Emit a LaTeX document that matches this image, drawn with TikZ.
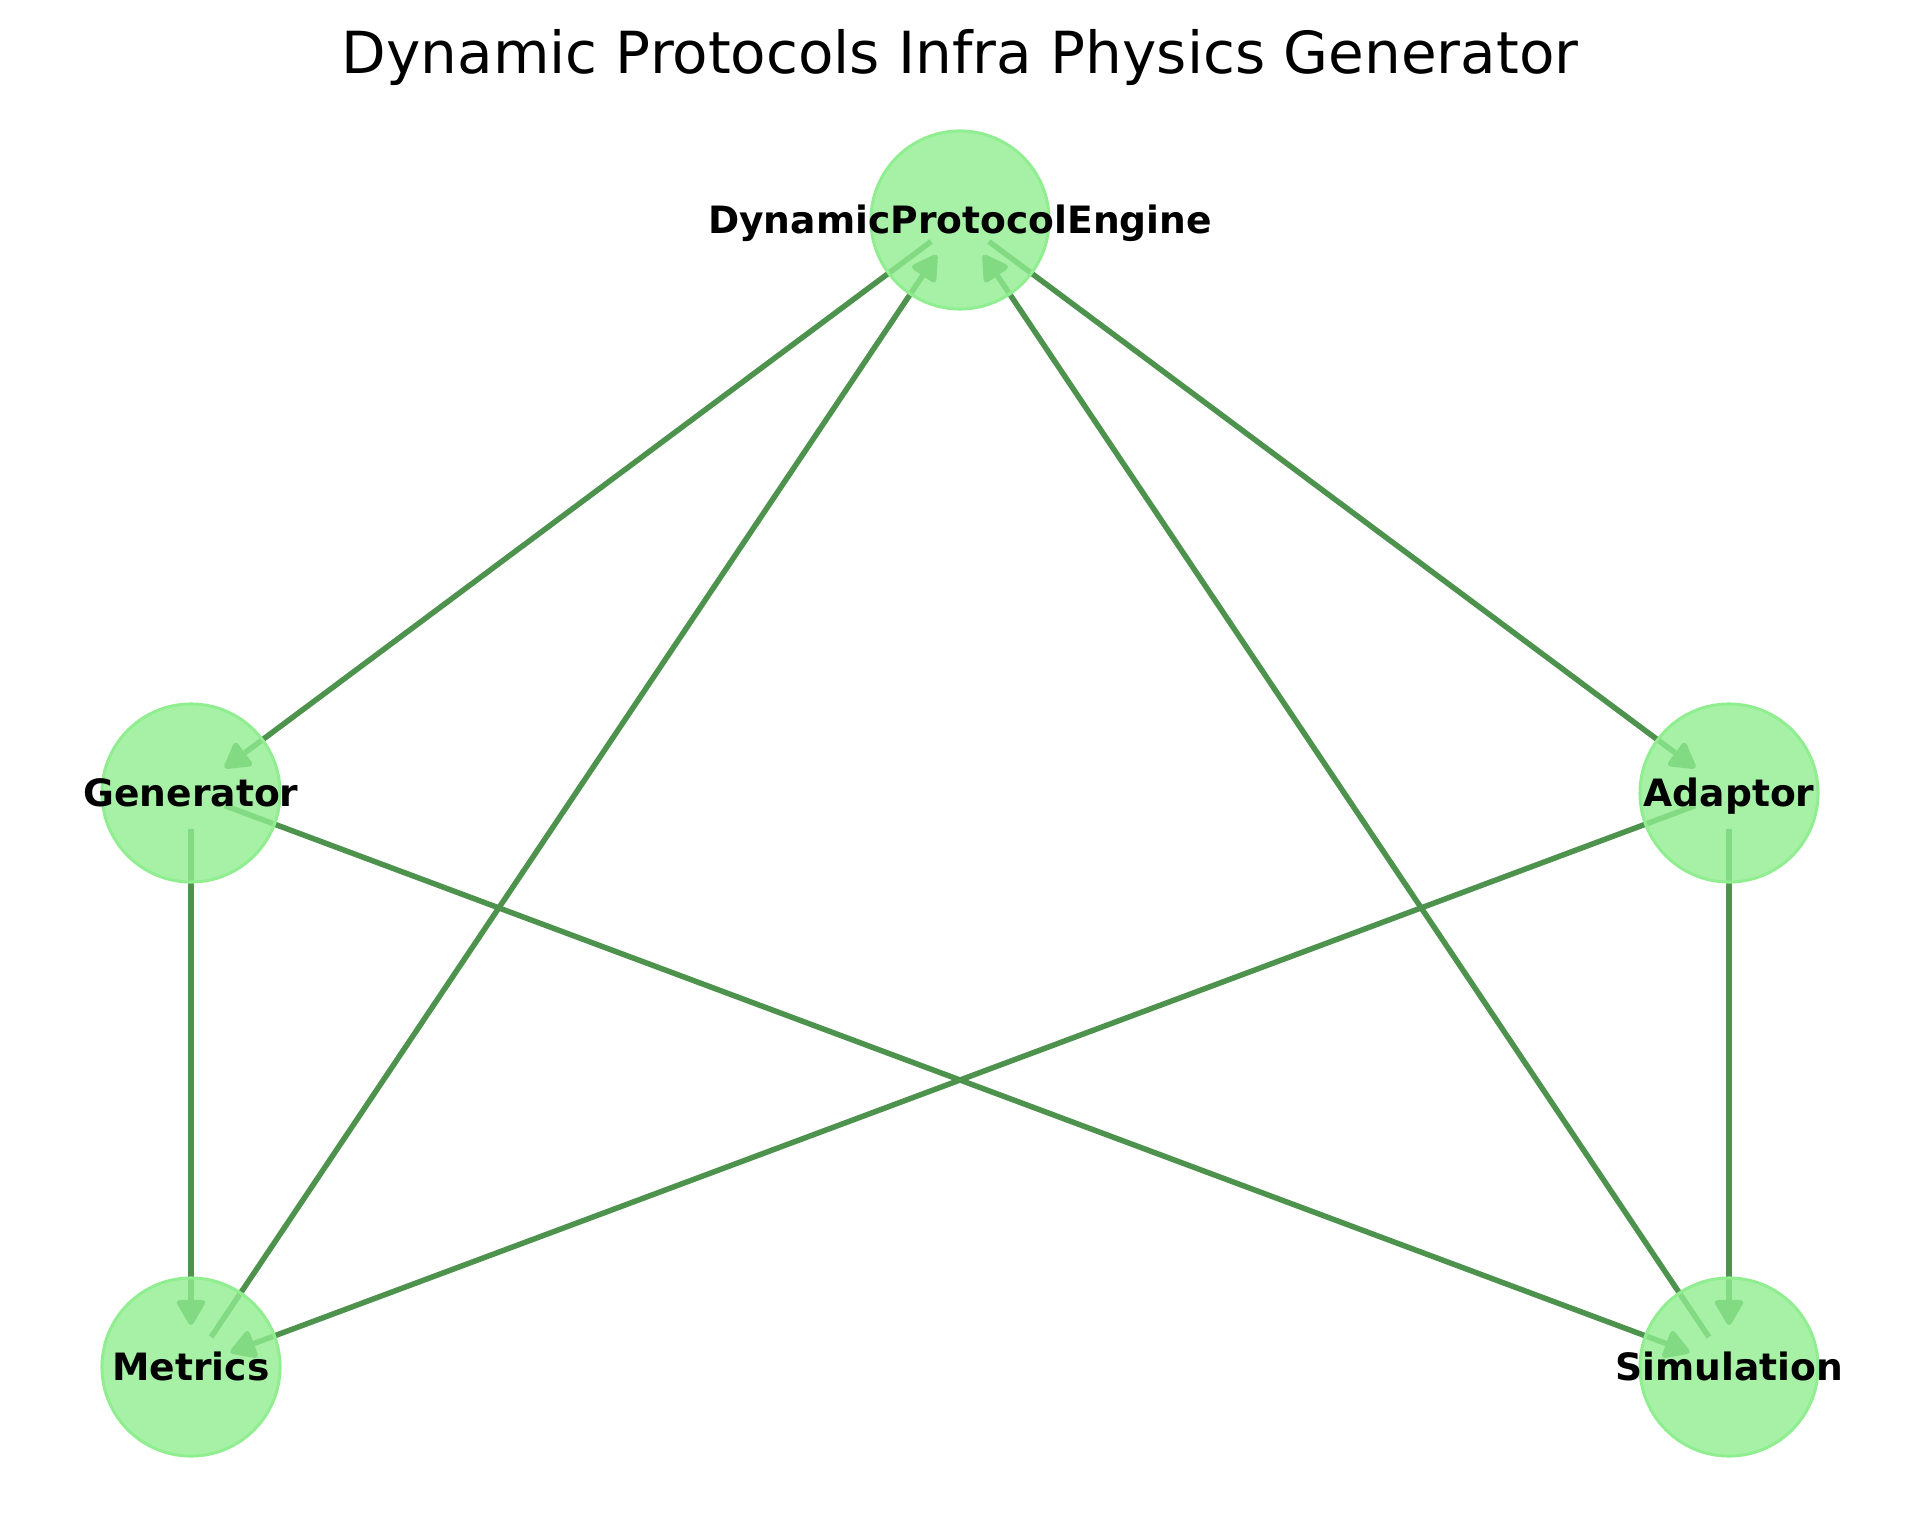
\documentclass[tikz,border=0pt]{standalone}
\usepackage{fontspec}
\setmainfont{DejaVu Sans}
\usepackage{xcolor}
\usetikzlibrary{arrows.meta,backgrounds}
\definecolor{nodegreen}{RGB}{144,238,144}
\definecolor{edgegreen}{RGB}{77,147,77}

\begin{document}
\begin{tikzpicture}[x=0.01cm,y=-0.01cm,
  mod/.style={circle,minimum size=1.78cm,inner sep=0pt,fill=nodegreen,fill opacity=0.8,
              draw=nodegreen,line width=0.03cm},
  lbl/.style={font=\fontsize{10.7}{12}\selectfont\bfseries,opacity=1,text opacity=1,
              text height=0.27cm,text depth=0pt,inner sep=0pt},
  flow/.style={-{Triangle[length=0.28cm,width=0.31cm,round]},edgegreen,line width=0.055cm,
               shorten <=0.36cm,shorten >=0.42cm}]
\useasboundingbox (0,0) rectangle (1919,1516);
\node[font=\fontsize{16.5}{20}\selectfont,anchor=base] (title) at (960,74)
   {Dynamic Protocols Infra Physics Generator};
% modules
\node[mod,label={[lbl]center:DynamicProtocolEngine}] (dpe) at (960,220) {};
\node[mod,label={[lbl]center:Generator}] (gen) at (191,793) {};
\node[mod,label={[lbl]center:Adaptor}] (ada) at (1729,793) {};
\node[mod,label={[lbl]center:Metrics}] (met) at (191,1367) {};
\node[mod,label={[lbl]center:Simulation}] (sim) at (1729,1367) {};
% links, behind the modules
\begin{scope}[on background layer]
\draw[flow] (dpe.center) -- (gen.center);
\draw[flow] (dpe.center) -- (ada.center);
\draw[flow] (gen.center) -- (met.center);
\draw[flow] (gen.center) -- (sim.center);
\draw[flow] (ada.center) -- (met.center);
\draw[flow] (ada.center) -- (sim.center);
\draw[flow] (met.center) -- (dpe.center);
\draw[flow] (sim.center) -- (dpe.center);
\end{scope}
\end{tikzpicture}
\end{document}
